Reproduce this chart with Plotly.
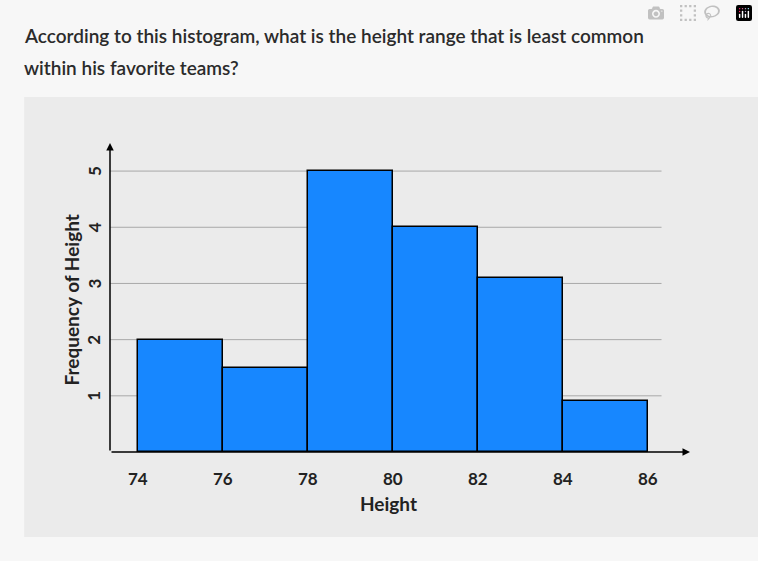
import plotly.graph_objects as go

bin_starts = [74, 76, 78, 80, 82, 84]
bin_width = 2
freqs = [2, 1.5, 5, 4, 3.1, 0.9]
xticks = [74, 76, 78, 80, 82, 84, 86]
yticks = [1, 2, 3, 4, 5]
question = ["According to this histogram, what is the height range that is least common",
            "within his favorite teams?"]

X0, X1, Y1 = 73.35, 87.0, 5.5
fnt = dict(family="Lato, Open Sans, sans-serif", color="#222", size=17, weight="bold")

fig = go.Figure(go.Bar(
    x=[s + bin_width / 2 for s in bin_starts], y=freqs, width=bin_width,
    marker=dict(color="#1787ff", line=dict(color="#000", width=1.5)),
))

shapes = [dict(type="rect", xref="paper", yref="paper", x0=-0.148, x1=1.12, y0=-0.275, y1=1.149,
               fillcolor="#ebebeb", line_width=0, layer="below")]
for v in yticks:
    shapes.append(dict(type="line", xref="x", yref="y", x0=X0, x1=86.33, y0=v, y1=v,
                       line=dict(color="#a8a8a8", width=1), layer="below"))
    shapes.append(dict(type="line", xref="x", yref="y", x0=X0 - 0.19, x1=X0, y0=v, y1=v,
                       line=dict(color="#000", width=1.5)))

ann = []
ann.append(dict(x=X1, y=0, ax=X0, ay=0, xref="x", yref="y", axref="x", ayref="y", text="",
                showarrow=True, arrowhead=2, arrowsize=1, arrowwidth=1.5, arrowcolor="#000"))
ann.append(dict(x=X0, y=Y1, ax=X0, ay=0, xref="x", yref="y", axref="x", ayref="y", text="",
                showarrow=True, arrowhead=2, arrowsize=1, arrowwidth=1.5, arrowcolor="#000"))
for v in xticks:
    ann.append(dict(x=v, y=0, xref="x", yref="y", yshift=-26, text=str(v), showarrow=False, font=fnt))
for v in yticks:
    ann.append(dict(x=X0, y=v, xref="x", yref="y", xshift=-16, text=str(v), textangle=-90,
                    showarrow=False, font=fnt))
ann.append(dict(x=(388 - 110) / 580, y=(452 - 517) / 309, xref="paper", yref="paper", text="Height",
                showarrow=False, font=dict(fnt, size=19)))
ann.append(dict(x=(57 - 110) / 580, y=(452 - 300) / 309, xref="paper", yref="paper",
                text="Frequency of Height", textangle=-90, showarrow=False, font=dict(fnt, size=19)))
for i, line in enumerate(question):
    ann.append(dict(x=(22 - 110) / 580, y=(452 - (22 + 32 * i)) / 309, xref="paper", yref="paper",
                    xanchor="left", text=line, showarrow=False,
                    font=dict(family="Lato, Open Sans, sans-serif", size=19, color="#2b2b2b", weight=600)))

fig.update_layout(
    width=758, height=561, margin=dict(l=110, r=68, t=143, b=109),
    paper_bgcolor="#f7f7f7", plot_bgcolor="rgba(0,0,0,0)", showlegend=False,
    xaxis=dict(range=[X0, X1], visible=False, fixedrange=True),
    yaxis=dict(range=[0, Y1], visible=False, fixedrange=True),
    shapes=shapes, annotations=ann, bargap=0,
)
fig.write_html("out.html")
with open("out.html") as f:
    html = f.read()
html = html.replace("<body>", '<body style="margin:0;background:#f7f7f7">', 1)
with open("out.html", "w") as f:
    f.write(html)
